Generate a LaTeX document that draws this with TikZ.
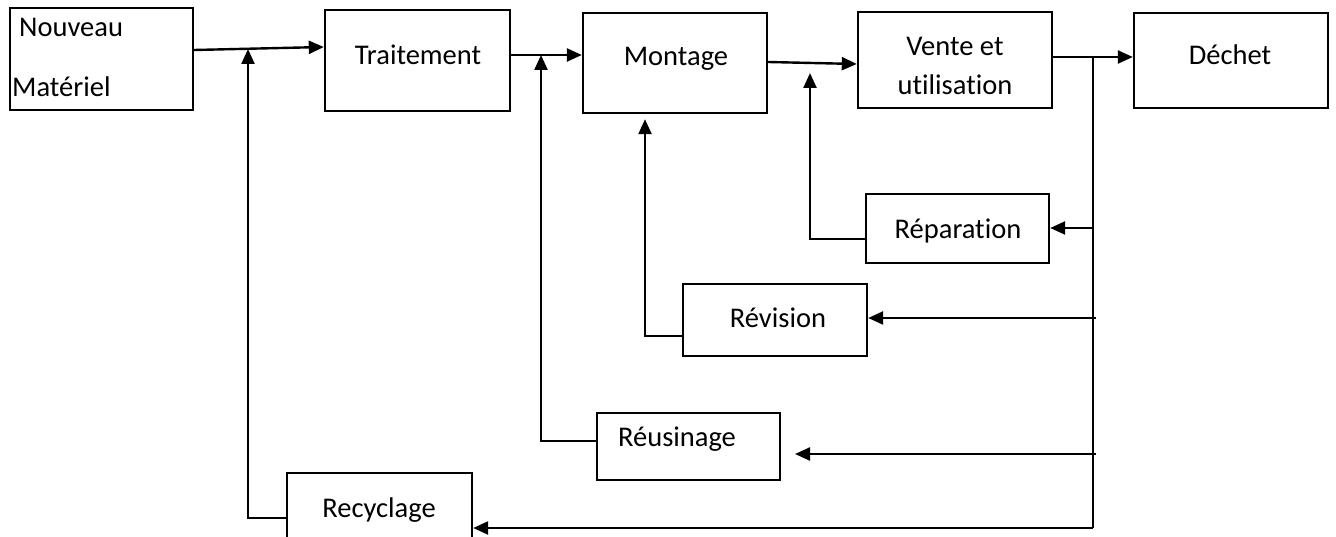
\documentclass[tikz,border=0pt]{standalone}
\usepackage{fontspec}
\setmainfont{Carlito}[Ligatures=NoCommon]
\usetikzlibrary{arrows.meta}
\begin{document}
\begin{tikzpicture}[x=1pt,y=-1pt,
  boxn/.style={draw, line width=2.4pt, inner sep=0pt},
  lbl/.style={inner sep=0pt, anchor=base, font=\fontsize{28.5}{39}\selectfont},
  arr/.style={line width=2.4pt, -{Triangle[length=15pt,width=13pt]}},
  ln/.style={line width=2.4pt}]
\fill[white] (0,0) rectangle (1336,537);
\clip (0,0) rectangle (1336,537);
% boxes
\node[boxn, minimum width=183pt, minimum height=102pt] (nm) at (101.5,59) {};
\node[boxn, minimum width=185pt, minimum height=101pt] (tr) at (417.5,60.5) {};
\node[boxn, minimum width=184pt, minimum height=100pt] (mo) at (675,63) {};
\node[boxn, minimum width=194pt, minimum height=96pt] (ve) at (955,60) {};
\node[boxn, minimum width=194pt, minimum height=95pt] (de) at (1231,60.5) {};
\node[boxn, minimum width=183pt, minimum height=69pt] (rp) at (957.5,228.5) {};
\node[boxn, minimum width=184pt, minimum height=72pt] (rv) at (775,320) {};
\node[boxn, minimum width=183pt, minimum height=67pt] (ru) at (688.5,446.5) {};
\node[boxn, minimum width=185pt, minimum height=80pt] (rc) at (379.5,513) {};
% labels
\node[lbl, anchor=base west] (t1a) at (19,37) {Nouveau};
\node[lbl, anchor=base west] (t1b) at (12,97) {Matériel};
\node[lbl] (t2) at (418,65) {Traitement};
\node[lbl] (t3) at (676,66) {Montage};
\node[lbl] (t4a) at (955,56) {Vente et};
\node[lbl] (t4b) at (955,95) {utilisation};
\node[lbl] (t5) at (1230,65) {Déchet};
\node[lbl] (t6) at (958,239) {Réparation};
\node[lbl] (t7) at (778,327) {Révision};
\node[lbl] (t8) at (677,446) {Réusinage};
\node[lbl] (t9) at (379,517) {Recyclage};
% junction points
\coordinate (j1) at (248,49);
\coordinate (j2) at (541,55);
\coordinate (j4) at (810,73);
\coordinate (j5) at (1093,57);
\coordinate (b1) at (1093,228);
\coordinate (b2) at (1096,318);
\coordinate (b3) at (1096,454);
\coordinate (b4) at (1093,528);
\coordinate (e3) at (795,454);
% main flow
\draw[arr] ([yshift=9pt]nm.east) -- ([yshift=13.5pt]tr.west);
\draw[arr] ([yshift=5.5pt]tr.east) -- ([yshift=8pt]mo.west);
\draw[arr] ([yshift=1pt]mo.east) -- ([yshift=-4pt]ve.west);
\draw[arr] ([yshift=3pt]ve.east) -- ([yshift=3.5pt]de.west);
% spine
\draw[ln] (j5) -- (b4);
\draw[arr] (b1) -- (rp.east |- b1);
\draw[arr] (b2) -- (rv.east |- b2);
\draw[arr] (b3) -- (e3);
\draw[arr] (b4) -- (rc.east |- b4);
% returns
\draw[arr] ([yshift=-10.5pt]rp.west) -| (j4);
\draw[arr] ([yshift=-16pt]rv.west) -| ([xshift=-30pt,yshift=-5pt]mo.south);
\draw[arr] ([yshift=5.5pt]ru.west) -| (j2);
\draw[arr] ([yshift=-5pt]rc.west) -| (j1);
\end{tikzpicture}
\end{document}
